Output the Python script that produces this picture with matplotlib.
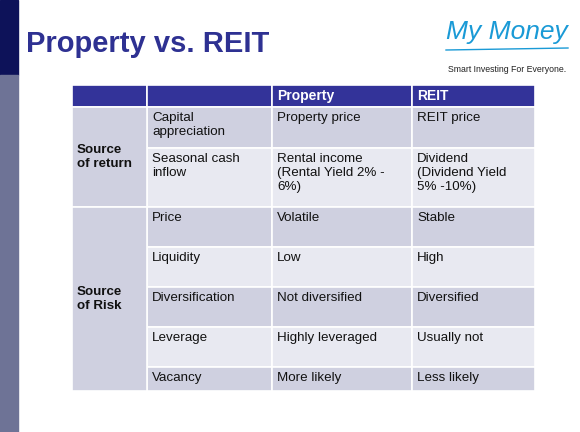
import matplotlib
matplotlib.use("Agg")
import matplotlib.pyplot as plt
from matplotlib.patches import Rectangle

plt.rcParams['font.family'] = ['Liberation Sans', 'DejaVu Sans']

headers = ["", "", "Property", "REIT"]
groups = [("Source\nof return", 0, 2), ("Source\nof Risk", 2, 7)]
factors = ["Capital\nappreciation", "Seasonal cash\ninflow", "Price", "Liquidity",
           "Diversification", "Leverage", "Vacancy"]
property_vals = ["Property price", "Rental income\n(Rental Yield 2% -\n6%)", "Volatile", "Low",
                 "Not diversified", "Highly leveraged", "More likely"]
reit_vals = ["REIT price", "Dividend\n(Dividend Yield\n5% -10%)", "Stable", "High",
             "Diversified", "Usually not", "Less likely"]

W, H = 580, 432
fig = plt.figure(figsize=(W/100, H/100), dpi=100)
ax = fig.add_axes([0, 0, 1, 1])
ax.set_xlim(0, W); ax.set_ylim(H, 0); ax.axis("off")

ax.add_patch(Rectangle((0, 0), 18, 75, color="#0d1259"))
ax.add_patch(Rectangle((0, 75), 18, H-75, color="#6e7396"))
ax.text(26, 44, "Property vs. REIT", fontsize=21, fontweight="bold", color="#2e3192",
        va="center", ha="left")
ax.text(507, 32, "My Money", fontsize=19, style="italic", color="#1a9ad6",
        va="center", ha="center")
ax.plot([446, 568], [50, 48], color="#1a9ad6", lw=1)
ax.text(507, 69, "Smart Investing For Everyone.", fontsize=6.3, color="#222222",
        va="center", ha="center")

xs = [72, 147, 272, 412, 535]
ys = [85, 107, 148, 207, 247, 287, 327, 367, 391]
hdr = "#333399"; c1 = "#cfd0e0"; c2 = "#e8e9f1"
fs = 9.6
for j in range(4):
    ax.add_patch(Rectangle((xs[j], ys[0]), xs[j+1]-xs[j], ys[1]-ys[0], facecolor=hdr,
                           edgecolor="white", lw=1.2))
    ax.text(xs[j]+5, (ys[0]+ys[1])/2, headers[j], color="white", fontsize=fs+0.4,
            fontweight="bold", va="center")
for i in range(7):
    col = c1 if i % 2 == 0 else c2
    for j, vals in [(1, factors), (2, property_vals), (3, reit_vals)]:
        ax.add_patch(Rectangle((xs[j], ys[i+1]), xs[j+1]-xs[j], ys[i+2]-ys[i+1],
                               facecolor=col, edgecolor="white", lw=1.2))
        ax.text(xs[j]+5, ys[i+1]+5, vals[i], fontsize=fs, va="top", color="#111111",
                linespacing=1.2)
for k, (lab, a, b) in enumerate(groups):
    ax.add_patch(Rectangle((xs[0], ys[a+1]), xs[1]-xs[0], ys[b+1]-ys[a+1],
                           facecolor=c1, edgecolor="white", lw=1.2))
    ax.text(xs[0]+5, (ys[a+1]+ys[b+1])/2, lab, fontsize=fs, fontweight="bold",
            va="center", color="#111111", linespacing=1.2)

fig.savefig("out.png", dpi=100)
